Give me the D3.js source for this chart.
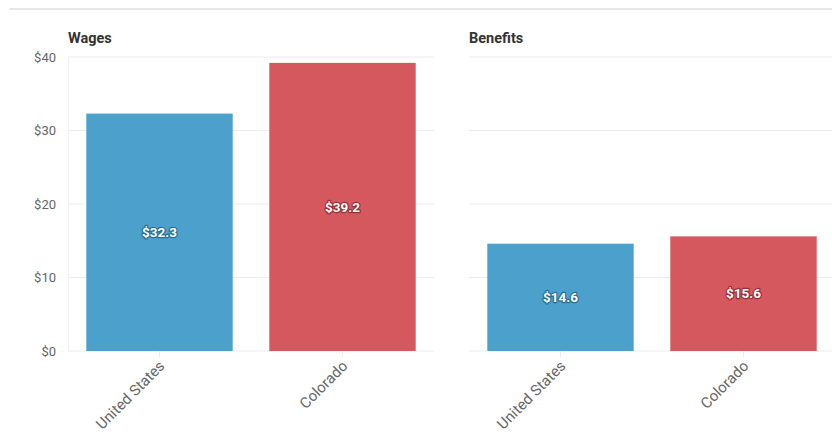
<!DOCTYPE html>
<html>
<head>
<meta charset="utf-8">
<script src="https://cdn.jsdelivr.net/npm/d3@7"></script>
<style>
  body { margin: 0; background: #fff; font-family: Roboto, "Noto Sans", sans-serif; }
  svg { display: block; }
</style>
</head>
<body>
<div id="chart"></div>
<script>
const categories = ["United States", "Colorado"];
const panels = ["Wages", "Benefits"];
const wages = [32.3, 39.2];
const benefits = [14.6, 15.6];
const yTicks = [0, 10, 20, 30, 40];
const colors = ["#4ba0cc", "#d6585f"];
const outlineColors = ["#2a6f93", "#9c2f36"];

const width = 832, height = 434;
const svg = d3.select("#chart").append("svg")
    .attr("width", width)
    .attr("height", height);

// top separator line
svg.append("line")
    .attr("x1", 10).attr("x2", width)
    .attr("y1", 9).attr("y2", 9)
    .attr("stroke", "#e6e6e6")
    .attr("stroke-width", 2);

const y = d3.scaleLinear().domain([0, 40]).range([351, 57]);

const series = [wages, benefits];
const ranges = [[68, 434], [469, 835]];

series.forEach((values, p) => {
    const x = d3.scaleBand()
        .domain(categories)
        .range(ranges[p])
        .paddingInner(0.2)
        .paddingOuter(0.1);

    const g = svg.append("g");

    // gridlines
    g.selectAll(".grid")
        .data(yTicks)
        .enter()
        .append("line")
        .attr("x1", ranges[p][0])
        .attr("x2", Math.min(ranges[p][1], width))
        .attr("y1", d => y(d))
        .attr("y2", d => y(d))
        .attr("stroke", "#ececec")
        .attr("stroke-width", 1);

    // faint vertical axis line on left panel
    if (p === 0) {
        g.append("line")
            .attr("x1", 68.5).attr("x2", 68.5)
            .attr("y1", y(40)).attr("y2", y(0))
            .attr("stroke", "#f0f0f0");

        g.selectAll(".ylab")
            .data(yTicks)
            .enter()
            .append("text")
            .attr("x", 56)
            .attr("y", d => y(d))
            .attr("dy", "0.35em")
            .attr("text-anchor", "end")
            .attr("fill", "#666")
            .style("font-size", "13px")
            .text(d => `$${d}`);
    }

    // panel title
    g.append("text")
        .attr("x", ranges[p][0])
        .attr("y", 43)
        .attr("fill", "#333")
        .style("font-size", "14.5px")
        .style("font-weight", "bold")
        .text(panels[p]);

    // bars
    g.selectAll(".bar")
        .data(values)
        .enter()
        .append("rect")
        .attr("x", (d, i) => x(categories[i]))
        .attr("y", d => y(d))
        .attr("width", x.bandwidth())
        .attr("height", d => y(0) - y(d))
        .attr("fill", (d, i) => colors[i]);

    // value labels
    g.selectAll(".val")
        .data(values)
        .enter()
        .append("text")
        .attr("x", (d, i) => x(categories[i]) + x.bandwidth() / 2)
        .attr("y", d => (y(d) + y(0)) / 2)
        .attr("dy", "0.35em")
        .attr("text-anchor", "middle")
        .attr("fill", "#fff")
        .attr("stroke", (d, i) => outlineColors[i])
        .attr("stroke-width", 2.5)
        .attr("stroke-linejoin", "round")
        .attr("paint-order", "stroke")
        .style("font-size", "13.5px")
        .style("font-weight", "bold")
        .text(d => `$${d.toFixed(1)}`);

    // x tick marks
    g.selectAll(".tick")
        .data(categories)
        .enter()
        .append("line")
        .attr("x1", d => x(d) + x.bandwidth() / 2)
        .attr("x2", d => x(d) + x.bandwidth() / 2)
        .attr("y1", y(0))
        .attr("y2", y(0) + 6)
        .attr("stroke", "#ececec");

    // rotated category labels
    g.selectAll(".xlab")
        .data(categories)
        .enter()
        .append("text")
        .attr("text-anchor", "end")
        .attr("fill", "#666")
        .style("font-size", "15px")
        .attr("transform", d => `translate(${x(d) + x.bandwidth() / 2 + 6},${y(0) + 16}) rotate(-45)`)
        .text(d => d);
});
</script>
</body>
</html>
